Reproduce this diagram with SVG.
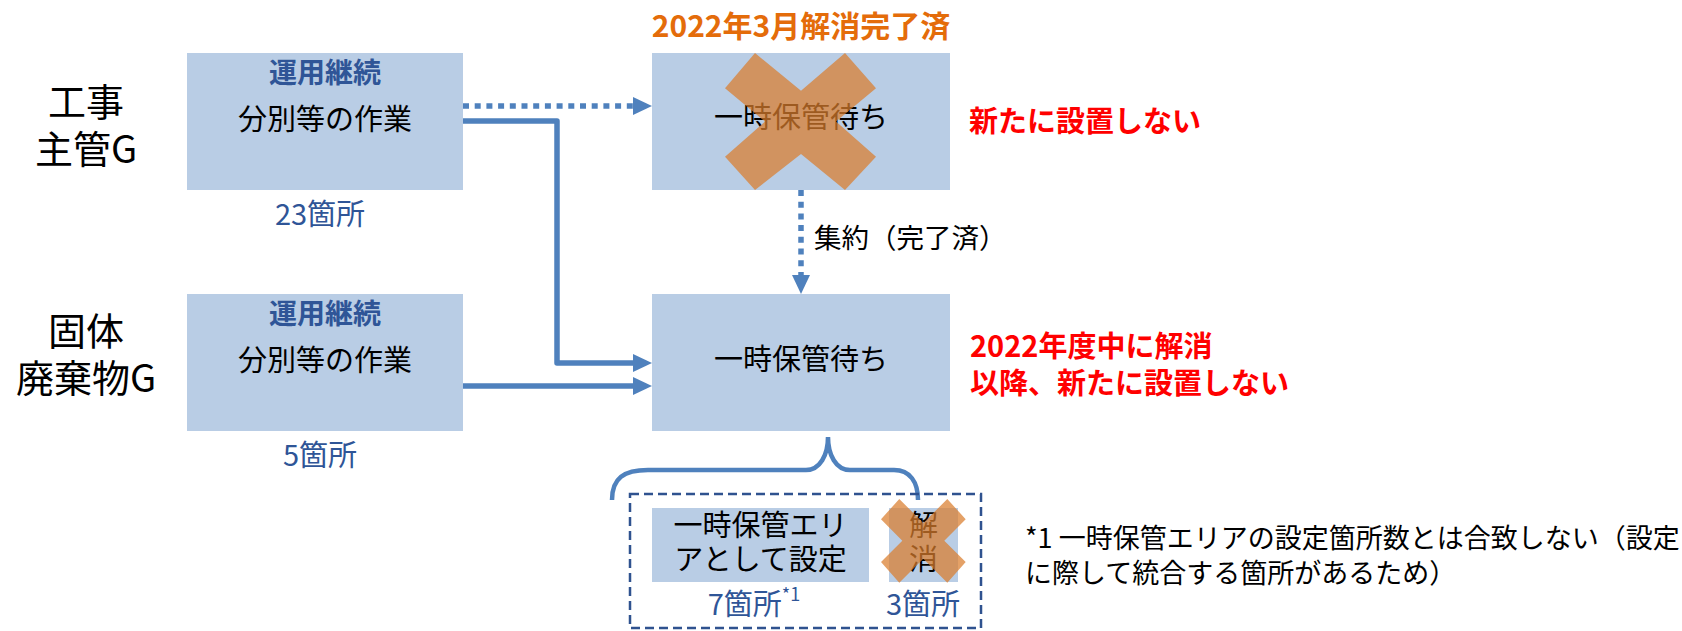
<svg xmlns="http://www.w3.org/2000/svg" width="1682" height="631" viewBox="0 0 1682 631">
  <style>
    text { font-family: "Noto Sans CJK JP", "Noto Sans", sans-serif; }
    .box { fill: #B9CDE5; }
    .lbl { font-size: 38px; fill: #000; text-anchor: middle; }
    .bt { font-size: 28px; font-weight: bold; fill: #2F5597; text-anchor: middle; }
    .t { font-size: 29px; fill: #000; text-anchor: middle; }
    .cnt { font-size: 29px; fill: #2F5597; text-anchor: middle; }
    .red { font-size: 29px; font-weight: bold; fill: #FF0000; }
    .cross { fill: #DA7D2D; fill-opacity: 0.72; }
    .conn { fill: none; stroke: #4F81BD; stroke-width: 5.5; stroke-linejoin: round; }
    .dot { stroke-dasharray: 6 5.7; }
  </style>
  <defs>
    <marker id="arr" markerUnits="userSpaceOnUse" markerWidth="20" markerHeight="20" refX="3" refY="9" orient="auto">
      <path d="M0,0 L19,9 L0,18 Z" fill="#4F81BD"/>
    </marker>
  </defs>

  <g id="label-koji">
    <text class="lbl" x="86" y="116">工事</text>
    <text class="lbl" x="86" y="163">主管G</text>
  </g>
  <g id="label-kotai">
    <text class="lbl" x="86" y="345">固体</text>
    <text class="lbl" x="86" y="392">廃棄物G</text>
  </g>

  <g id="box-koji">
    <rect class="box" x="187" y="53" width="276" height="137"/>
    <text class="bt" x="325" y="83">運用継続</text>
    <text class="t" x="325" y="130">分別等の作業</text>
    <text class="cnt" x="320" y="225">23箇所</text>
  </g>
  <g id="box-kotai">
    <rect class="box" x="187" y="294" width="276" height="137"/>
    <text class="bt" x="325" y="324">運用継続</text>
    <text class="t" x="325" y="371">分別等の作業</text>
    <text class="cnt" x="320" y="466">5箇所</text>
  </g>

  <g id="box-temp1">
    <text x="801" y="37" font-size="30" font-weight="bold" fill="#E46C0A" text-anchor="middle">2022年3月解消完了済</text>
    <rect class="box" x="652" y="53" width="298" height="137"/>
    <text class="t" x="801" y="128">一時保管待ち</text>
    <polygon class="cross" points="725,88.3 755,53 801,90.7 845,53 876,88.3 836,121.5 876,156.7 845,190 801,154 755,190 725,156.7 765,121.5"/>
    <text class="red" x="969" y="132">新たに設置しない</text>
  </g>

  <g id="box-temp2">
    <rect class="box" x="652" y="294" width="298" height="137"/>
    <text class="t" x="801" y="370">一時保管待ち</text>
    <text class="red" x="970" y="357">2022年度中に解消</text>
    <text class="red" x="970" y="394">以降、新たに設置しない</text>
  </g>

  <g id="brace">
    <path d="M612,500 C612,478 624,470 648,470 L806,470 C820,470 828,455 828,437 C828,455 836,470 850,470 L894,470 C910,470 918,482 918,500" fill="none" stroke="#4F81BD" stroke-width="4.5"/>
  </g>

  <g id="group-area">
    <rect x="630" y="494" width="351" height="134" fill="none" stroke="#2F528F" stroke-width="2.5" stroke-dasharray="9 5"/>
  </g>
  <g id="box-area">
    <rect class="box" x="652" y="508" width="217" height="74"/>
    <text class="t" x="760.5" y="536">一時保管エリ</text>
    <text class="t" x="760.5" y="570">アとして設定</text>
    <text class="cnt" x="754" y="615">7箇所<tspan font-size="18" dy="-14">*1</tspan></text>
  </g>
  <g id="box-resolved">
    <rect class="box" x="889" y="508" width="69" height="74"/>
    <text class="t" x="923.5" y="536">解</text>
    <text class="t" x="923.5" y="570">消</text>
    <polygon class="cross" points="881,519.3 899.3,499 923.3,523 947.3,499 965.7,519.3 944.3,540.7 965.7,562 947.3,582.7 923.3,558.7 899.3,582.7 881,562 902.3,540.7"/>
    <text class="cnt" x="923" y="615">3箇所</text>
  </g>

  <g id="footnote">
    <text x="1025" y="548" font-size="27" fill="#000">*1 一時保管エリアの設定箇所数とは合致しない（設定</text>
    <text x="1025" y="583" font-size="27" fill="#000">に際して統合する箇所があるため）</text>
  </g>

  <g id="connectors">
    <path class="conn dot" d="M463,106 H636" marker-end="url(#arr)"/>
    <path class="conn" d="M463,121 H557 V363 H636" marker-end="url(#arr)"/>
    <path class="conn" d="M463,386 H636" marker-end="url(#arr)"/>
    <path class="conn dot" d="M801,190 V278" marker-end="url(#arr)"/>
    <text x="814" y="248" font-size="27.5" fill="#000">集約（完了済）</text>
  </g>
</svg>
